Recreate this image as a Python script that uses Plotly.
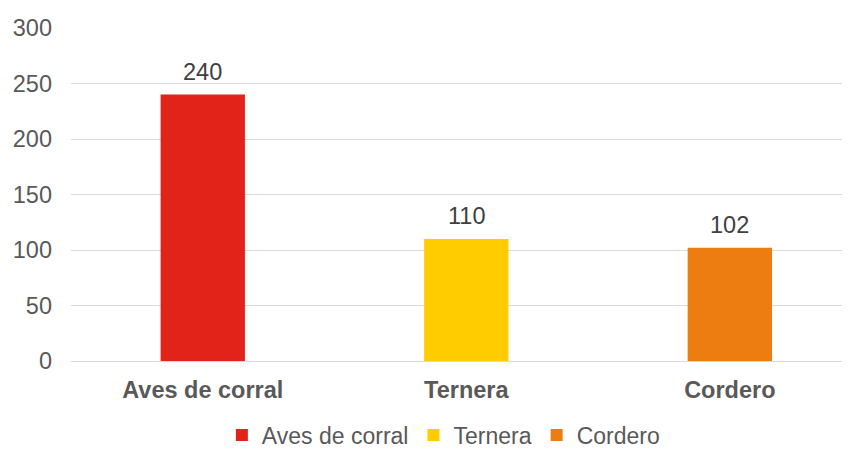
import plotly.graph_objects as go

categories = ["Aves de corral", "Ternera", "Cordero"]
values = [240, 110, 102]
colors = ["#E2231A", "#FFCC00", "#EE7D11"]
y_ticks = [0, 50, 100, 150, 200, 250, 300]

FONT = "Liberation Sans, Arial"

fig = go.Figure()
for cat, val, col in zip(categories, values, colors):
    fig.add_trace(go.Bar(
        x=[cat], y=[val], name=cat, marker=dict(color=col, line=dict(width=0)),
        width=0.32,
    ))
    fig.add_annotation(x=cat, y=val, text=str(val), showarrow=False,
                       yanchor="bottom", yshift=8,
                       font=dict(size=23.5, color="#404040", family=FONT))

# page body has an 8px margin; coordinates below compensate for it
fig.update_layout(
    width=850, height=450,
    margin=dict(l=63, r=8, t=20, b=97, autoexpand=False),
    plot_bgcolor="white", paper_bgcolor="white",
    barmode="overlay",
    font=dict(family=FONT, size=23.5, color="#595959"),
    showlegend=True,
    legend=dict(orientation="h", x=0.478, xanchor="center", y=-0.222, yanchor="middle",
                font=dict(size=23, color="#595959"), traceorder="normal",
                itemwidth=30, tracegroupgap=0),
)
fig.update_xaxes(
    categoryorder="array", categoryarray=categories,
    range=[-0.5, 2.456], showgrid=False, showline=False, zeroline=False,
    tickfont=dict(size=23.5, color="#595959", family=FONT),
    tickvals=categories, ticktext=[f"<b>{c}</b>" for c in categories],
    ticklabelstandoff=12,
)
fig.update_yaxes(
    range=[0, 300], tickvals=y_ticks, showgrid=True, gridcolor="#D9D9D9", gridwidth=1.3,
    zeroline=True, zerolinecolor="#D9D9D9", zerolinewidth=1.3,
    tickfont=dict(size=23.5, color="#595959"), ticklabelstandoff=18,
)

fig.write_html("out.html")
